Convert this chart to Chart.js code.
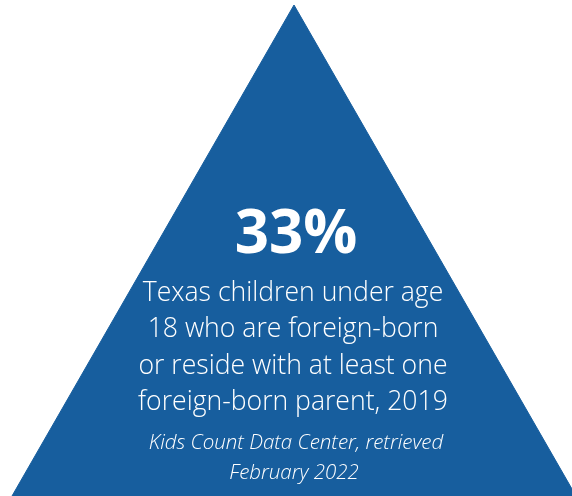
<!DOCTYPE html>
<html lang="en">
  <head>
    <meta charset="UTF-8" />
    <title>Texas children foreign-born</title>
    <style>
      body {
          margin: 0;
          background-color: #fff;
      }
      #wrap {
          width: 572px;
          height: 496px;
      }
    </style>
    <script src="https://cdn.jsdelivr.net/npm/chart.js@4.4.0/dist/chart.umd.min.js"></script>
  </head>
  <body>
    <div id="wrap"><canvas id="triangleChart"></canvas></div>
    <script>
      // triangle outline, in percent of the shape's width / height
      const triangleX = [0, 50, 100];
      const triangleY = [0, 100, 0];

      const bigNumber = "33%";
      const captionLines = [
        "Texas children under age",
        "18 who are foreign-born",
        "or reside with at least one",
        "foreign-born parent, 2019",
      ];
      const sourceLines = ["Kids Count Data Center, retrieved", "February 2022"];

      const textPlugin = {
        id: "infoText",
        afterDraw(chart) {
          const ctx = chart.ctx;
          ctx.save();
          ctx.fillStyle = "#ffffff";
          ctx.textAlign = "center";
          ctx.textBaseline = "alphabetic";
          ctx.font = '700 60px "Open Sans"';
          ctx.fillText(bigNumber, 296, 253);
          ctx.font = '300 26.6px "Open Sans"';
          var baselines = [301, 337, 374, 410];
          captionLines.forEach((line, i) => ctx.fillText(line, 293, baselines[i]));
          ctx.font = 'italic 300 20.5px "Open Sans"';
          ctx.fillText(sourceLines[0], 296, 449);
          ctx.fillText(sourceLines[1], 294, 479);
          ctx.restore();
        },
      };

      new Chart(document.getElementById("triangleChart"), {
        type: "scatter",
        data: {
          datasets: [
            {
              data: triangleX.map((x, i) => ({ x: x, y: triangleY[i] })),
              showLine: true,
              fill: "origin",
              backgroundColor: "#175e9e",
              borderColor: "#175e9e",
              borderWidth: 1,
              pointRadius: 0,
              tension: 0,
            },
          ],
        },
        options: {
          responsive: true,
          maintainAspectRatio: false,
          animation: false,
          layout: { padding: 0 },
          plugins: {
            legend: { display: false },
            tooltip: { enabled: false },
          },
          scales: {
            x: { type: "linear", display: false, min: -2.13, max: 99.29 },
            y: { display: false, min: 0, max: 101.02 },
          },
        },
        plugins: [textPlugin],
      });
    </script>
  </body>
</html>
